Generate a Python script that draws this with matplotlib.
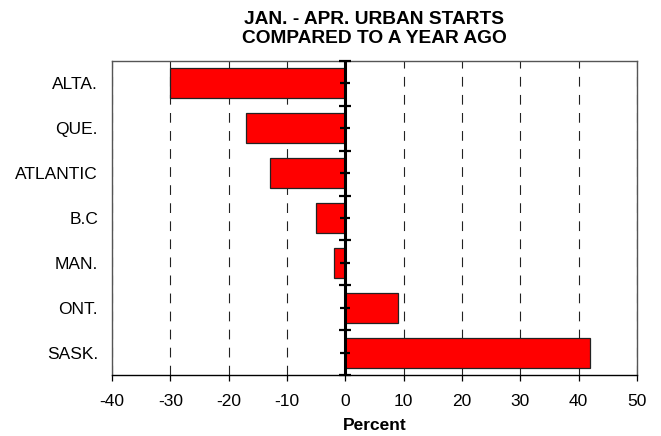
import numpy as np
import matplotlib
matplotlib.use("Agg")
import matplotlib.pyplot as plt

# data
provinces = ['ALTA.', 'QUE.', 'ATLANTIC', 'B.C', 'MAN.', 'ONT.', 'SASK.']
change = [-30, -17, -13, -5, -2, 9, 42]
xticks = [-40, -30, -20, -10, 0, 10, 20, 30, 40, 50]

plt.rcParams['font.family'] = ['Liberation Sans', 'DejaVu Sans']
plt.rcParams['lines.scale_dashes'] = False

fig = plt.figure(figsize=(6.61, 4.36), dpi=100)
ax = fig.add_axes([112/661, 1 - 375/436, 525/661, 314/436])

pos = np.arange(len(provinces))
ax.barh(pos, change, height=0.67, color='#ff0000', edgecolor='#222222',
        linewidth=0.9, zorder=2)

# zero line with tick marks at boundaries and centres
ax.axvline(0, color='black', lw=2.2, zorder=3)
bounds = np.arange(len(provinces) + 1) - 0.5
ax.plot(np.zeros(len(bounds)), bounds, ls='none', marker='_', ms=9,
        mew=1.6, color='black', zorder=4, clip_on=False)
ax.plot(np.zeros(len(pos)), pos, ls='none', marker='_', ms=7.5,
        mew=1.6, color='black', zorder=4, clip_on=False)

ax.set_xlim(-40, 50)
ax.set_ylim(len(provinces) - 0.5, -0.5)
ax.set_xticks(xticks)
ax.set_xticklabels([str(t) for t in xticks])
ax.set_yticks(pos)
ax.set_yticklabels(provinces)

ax.xaxis.grid(True, color='#222222', lw=0.8, dashes=(7, 6))
ax.set_axisbelow(True)

ax.tick_params(axis='x', direction='out', length=4, width=0.9, pad=10,
               labelsize=12.5, colors='black')
ax.tick_params(axis='y', length=0, pad=10, labelsize=12.5)

for s in ['top', 'right', 'left']:
    ax.spines[s].set_color('#555555')
    ax.spines[s].set_linewidth(1.0)
ax.spines['bottom'].set_color('black')
ax.spines['bottom'].set_linewidth(1.0)

ax.set_xlabel('Percent', fontsize=12.5, fontweight='bold', labelpad=6)
ax.set_title('JAN. - APR. URBAN STARTS\nCOMPARED TO A YEAR AGO',
             fontsize=13.8, fontweight='bold', linespacing=1.15, pad=13)

fig.savefig('out.png', dpi=100)
